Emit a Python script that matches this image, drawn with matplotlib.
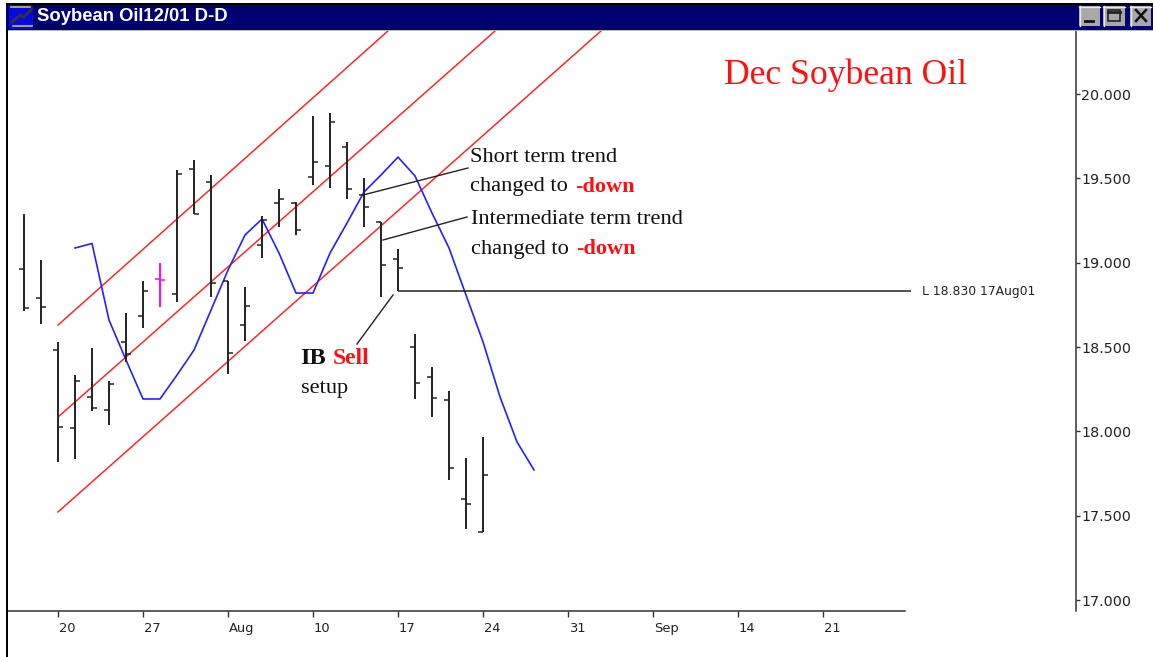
import matplotlib
matplotlib.use("Agg")
import matplotlib.pyplot as plt
from matplotlib.lines import Line2D
from matplotlib.patches import Rectangle
from matplotlib.transforms import ScaledTranslation

W, H = 1153, 657

# ---- data: session index 0 = 20 Jul, 5 sessions per week ----
bar_idx = list(range(-2, 26))
highs = [19.289, 19.016, 18.530, 18.334, 18.494, 18.298, 18.702, 18.891, 18.998, 19.549,
         19.609, 19.520, 18.891, 18.856, 19.277, 19.437, 19.360, 19.870, 19.887, 19.715,
         19.502, 19.241, 19.081, 18.577, 18.381, 18.239, 17.842, 17.966]
lows = [18.713, 18.636, 17.818, 17.836, 18.121, 18.038, 18.411, 18.613, 18.737, 18.767,
        19.289, 18.796, 18.340, 18.536, 19.028, 19.211, 19.164, 19.460, 19.443, 19.377,
        19.211, 18.796, 18.830, 18.192, 18.085, 17.711, 17.421, 17.403]
opens = [18.962, 18.790, 18.482, 18.020, 18.204, 18.126, 18.530, 18.684, 18.903, 18.814,
         19.555, 19.478, 18.891, 18.630, 19.105, 19.354, 19.354, 19.508, 19.573, 19.686,
         19.401, 19.241, 19.022, 18.500, 18.322, 18.186, 17.599, 17.403]
closes = [18.731, 18.737, 18.026, 18.298, 18.138, 18.281, 18.458, 18.832, 18.897, 19.526,
          19.289, 18.879, 18.464, 18.743, 19.253, 19.377, 19.194, 19.597, 19.834, 19.437,
          19.330, 18.986, 18.968, 18.287, 18.198, 17.783, 17.569, 17.741]
highlight_idx = 6

ma_idx = list(range(1, 29))
ma_vals = [19.087, 19.114, 18.660, 18.423, 18.192, 18.192, 18.334, 18.482, 18.719, 18.956,
           19.164, 19.259, 19.057, 18.820, 18.820, 19.057, 19.235, 19.419, 19.520, 19.626,
           19.514, 19.294, 19.087, 18.808, 18.530, 18.204, 17.937, 17.771]

channel_x = [[0, 19.41], [0, 25.71], [0, 31.94]]
channel_y = [[18.630, 20.374], [18.085, 20.374], [17.522, 20.374]]

low_level = 18.830
low_level_idx = [20, 50.2]

x_ticks = [0, 5, 10, 15, 20, 25, 30, 35, 40, 45]
x_labels = ['20', '27', 'Aug', '10', '17', '24', '31', 'Sep', '14', '21']
y_ticks = [17.0, 17.5, 18.0, 18.5, 19.0, 19.5, 20.0]
y_labels = ['17.000', '17.500', '18.000', '18.500', '19.000', '19.500', '20.000']

fig = plt.figure(figsize=(W / 100, H / 100), dpi=100, facecolor='white')


def fx(px):
    return px / W


def fy(py):
    return 1 - py / H


def box(x0, y0, x1, y1, color, z=5):
    fig.add_artist(Rectangle((fx(x0), fy(y1)), (x1 - x0) / W, (y1 - y0) / H, transform=fig.transFigure,
                             facecolor=color, edgecolor='none', zorder=z))


def seg(x0, y0, x1, y1, color='#222222', lw=1.0, z=6):
    fig.add_artist(Line2D([fx(x0), fx(x1)], [fy(y0), fy(y1)], transform=fig.transFigure,
                          color=color, lw=lw, zorder=z))


# ---- chart axes ----
ax = fig.add_axes([fx(7), fy(611), (1076 - 7) / W, (611 - 31) / H])
ax.set_xlim(-3, 59.88)
ax.set_ylim(16.935, 20.3735)
ax.patch.set_alpha(0)
for s in ['top', 'left']:
    ax.spines[s].set_visible(False)
ax.spines['right'].set_linewidth(1.1)
ax.spines['right'].set_color('#333333')
ax.spines['bottom'].set_linewidth(1.1)
ax.spines['bottom'].set_color('#333333')
ax.spines['bottom'].set_bounds(-3, 49.8)

for xs, ys in zip(channel_x, channel_y):
    ax.plot(xs, ys, color='#ff2020', lw=1.05, zorder=2)

ax.plot(ma_idx, ma_vals, color='#2222ff', lw=1.2, zorder=3)

for i, h, l, o, c in zip(bar_idx, highs, lows, opens, closes):
    col = '#ff00ff' if i == highlight_idx else '#222222'
    ax.vlines(i, l, h, color=col, lw=1.4, zorder=4)
    ax.hlines(o, i - 0.27, i, color=col, lw=1.1, zorder=4)
    ax.hlines(c, i, i + 0.27, color=col, lw=1.1, zorder=4)

ax.hlines(low_level, low_level_idx[0], low_level_idx[1], color='#222222', lw=1.1, zorder=4)

ax.yaxis.tick_right()
ax.set_yticks(y_ticks, y_labels)
ax.set_xticks(x_ticks, x_labels, ha='left')
sans = 'DejaVu Sans'
ax.tick_params(axis='y', length=3.2, width=1, color='#333333', pad=0.5, labelsize=10.3, labelcolor='#222222')
ax.tick_params(axis='x', length=4.5, width=1, color='#333333', pad=3.5, labelsize=9.4, labelcolor='#222222')
for t in ax.get_xticklabels() + ax.get_yticklabels():
    t.set_family(sans)
for t in ax.get_xticklabels():
    t.set_transform(t.get_transform() + ScaledTranslation(1 / 100, 0, fig.dpi_scale_trans))

# ---- window frame ----
box(6, 4, W, 30, '#000070')
box(6, 30, W, 31.2, '#b8b8b8')
box(6, 3, W, 5, '#000000')
box(6, 30, 7.5, H, '#000000')
box(9, 5, 33, 29, '#0808e0')
seg(12, 22, 20, 15, '#333333', 2.0)
seg(20, 15, 24, 17, '#333333', 2.0)
seg(24, 17, 32, 9, '#333333', 2.0)
seg(11, 7, 30, 7, '#c0c060', 1.2)
seg(13, 26, 32, 26, '#c0c060', 1.2)
fig.text(fx(37), fy(16.5), 'Soybean Oil12/01 D-D', color='white', family='Liberation Sans', weight='bold', fontsize=13.3,
         va='center', ha='left', zorder=8)

for x0, x1 in [(1079, 1100), (1103, 1125), (1130, 1151)]:
    box(x0, 6, x1, 26, '#a8a8a8', z=6)
    seg(x0, 6.5, x1, 6.5, '#e8e8e8', 1.0, z=7)
    seg(x0 + 0.5, 6, x0 + 0.5, 26, '#e8e8e8', 1.0, z=7)
seg(1085, 21, 1093, 21, '#111111', 2.0, z=8)
fig.add_artist(Rectangle((fx(1108), fy(21)), 12 / W, 11 / H, transform=fig.transFigure, facecolor='none',
                         edgecolor='#222222', lw=1.2, zorder=8))
seg(1108, 11.5, 1120, 11.5, '#222222', 2.0, z=8)
seg(1136, 10, 1146, 21, '#111111', 1.8, z=8)
seg(1146, 10, 1136, 21, '#111111', 1.8, z=8)

# ---- annotations ----
serif = 'Liberation Serif'
fig.text(fx(724), fy(75.5), 'Dec Soybean Oil', color='#ff1010', family=serif, fontsize=25.7, va='center', ha='left')


def note(px, py, s, **kw):
    kw.setdefault('color', '#111111')
    kw.setdefault('fontsize', 16.1)
    return fig.text(fx(px), fy(py), s, family=serif, va='center', ha='left', **kw)


note(470, 157, 'Short term trend')
note(470, 186.5, 'changed to')
note(575, 186.5, '-down', color='#ff1010', weight='bold', fontsize=16)
note(471, 220, 'Intermediate term trend')
note(471, 249.5, 'changed to')
note(576, 248.5, '-down', color='#ff1010', weight='bold', fontsize=16)
note(300, 358, 'IB', weight='bold', fontsize=17.5)
note(333, 358.5, 'Sell', color='#ff1010', weight='bold', fontsize=17)
note(301, 389, 'setup')
fig.text(fx(922), fy(292), 'L 18.830 17Aug01', family=sans, fontsize=8.9, color='#222222', va='center', ha='left')

seg(363, 195, 468, 168)
seg(383, 240, 467, 217)
seg(393, 295, 357, 344)

fig.savefig('out.png', dpi=100)
